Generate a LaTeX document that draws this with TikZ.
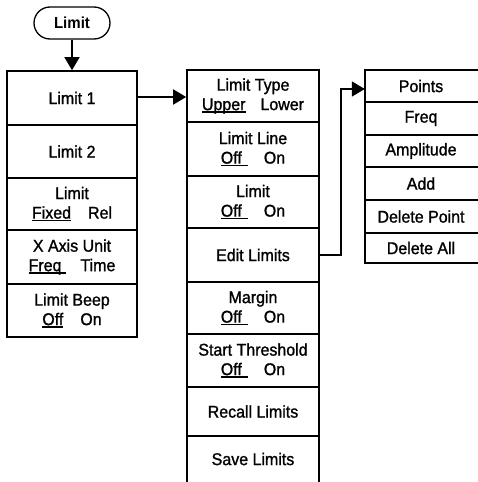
\documentclass[tikz,border=0pt]{standalone}
\usepackage{fontspec}
\setmainfont{Liberation Sans}[FakeStretch=0.94,FakeBold=1.2]
\newfontfamily\boldfam{Liberation Sans Bold}[FakeStretch=0.94]
\usetikzlibrary{arrows.meta}
\newcommand\uln[2][0pt]{\setbox0\hbox{#2\hspace{#1}}\rlap{\rule[-2.6pt]{\wd0}{1.3pt}}\box0}
\begin{document}
\begin{tikzpicture}[x=1pt,y=-1pt,
  box/.style={draw, line width=1.6pt, inner sep=0pt, align=center,
    font=\fontsize{17}{19.5}\selectfont},
  openbox/.style={inner sep=0pt, align=center, font=\fontsize{17}{19.5}\selectfont},
  conn/.style={line width=1.6pt},
  tip/.style={-{Triangle[length=13pt,width=15pt]}}]
\useasboundingbox (0,0) rectangle (478,482);
% start
\node[draw, line width=1.3pt, rounded corners=16pt, minimum width=76pt, minimum height=32pt,
  inner sep=0pt, font=\fontsize{16}{18}\boldfam] (top) at (72,23) {Limit};
% left column
\node[box, minimum width=130pt, minimum height=54pt] (lim1) at (72,98) {Limit 1};
\node[box, minimum width=130pt, minimum height=53pt] (lim2) at (72,151.5) {Limit 2};
\node[box, minimum width=130pt, minimum height=52pt] (limfr) at (72,204) {Limit\\\uln{Fixed}\hspace{17pt}Rel};
\node[box, minimum width=130pt, minimum height=54pt] (xaxis) at (72,257) {X Axis Unit\\\uln[5pt]{Freq}\hspace{14pt}Time};
\node[box, minimum width=130pt, minimum height=53pt] (beep) at (72,310.5) {Limit Beep\\\uln{Off}\hspace{17pt}On};
% middle column
\node[box, minimum width=132pt, minimum height=52pt] (ltype) at (253,96) {Limit Type\\\uln{Upper}\hspace{15pt}Lower};
\node[box, minimum width=132pt, minimum height=54pt] (lline) at (253,149) {Limit Line\\\uln[6pt]{Off}\hspace{16pt}On};
\node[box, minimum width=132pt, minimum height=52pt] (lim) at (253,202) {Limit\\\uln[6pt]{Off}\hspace{16pt}On};
\node[box, minimum width=132pt, minimum height=54pt] (edit) at (253,255) {Edit Limits};
\node[box, minimum width=132pt, minimum height=52pt] (margin) at (253,308) {Margin\\\uln[6pt]{Off}\hspace{16pt}On};
\node[box, minimum width=132pt, minimum height=53pt] (start) at (253,360.5) {Start Threshold\\\uln[6pt]{Off}\hspace{16pt}On};
\node[box, minimum width=132pt, minimum height=49pt] (recall) at (253,411.5) {Recall Limits};
% last box runs off the bottom of the picture
\node[openbox, minimum width=132pt, minimum height=46pt] (save) at (253,459) {Save Limits};
\draw[conn] (save.south west) -- (save.north west) -- (save.north east) -- (save.south east);
% right column (open on the right, running off the picture)
\node[openbox, minimum width=112pt, minimum height=32pt] (points) at (421,86) {Points};
\node[openbox, minimum width=112pt, minimum height=33pt] (freq) at (421,118.5) {Freq};
\node[openbox, minimum width=112pt, minimum height=32pt] (amp) at (421,151) {Amplitude};
\node[openbox, minimum width=112pt, minimum height=33pt] (add) at (421,183.5) {Add};
\node[openbox, minimum width=112pt, minimum height=33pt] (delpt) at (421,216.5) {Delete Point};
\node[openbox, minimum width=112pt, minimum height=30pt] (delall) at (421,248) {Delete All};
\foreach \n in {points,freq,amp,add,delpt,delall}{
  \draw[conn] ([xshift=1pt]\n.north east) -- (\n.north west) -- (\n.south west) -- ([xshift=1pt]\n.south east);
}
% connectors
\draw[conn,tip] (top.south) -- (lim1.north);
\draw[conn,tip] ([yshift=1pt]lim1.east) -- ([yshift=1pt]lim1.east -| ltype.west);
\draw[conn,tip] (edit.east) -- ++(21,0) |- ([yshift=-3pt]points.west);
\end{tikzpicture}
\end{document}
